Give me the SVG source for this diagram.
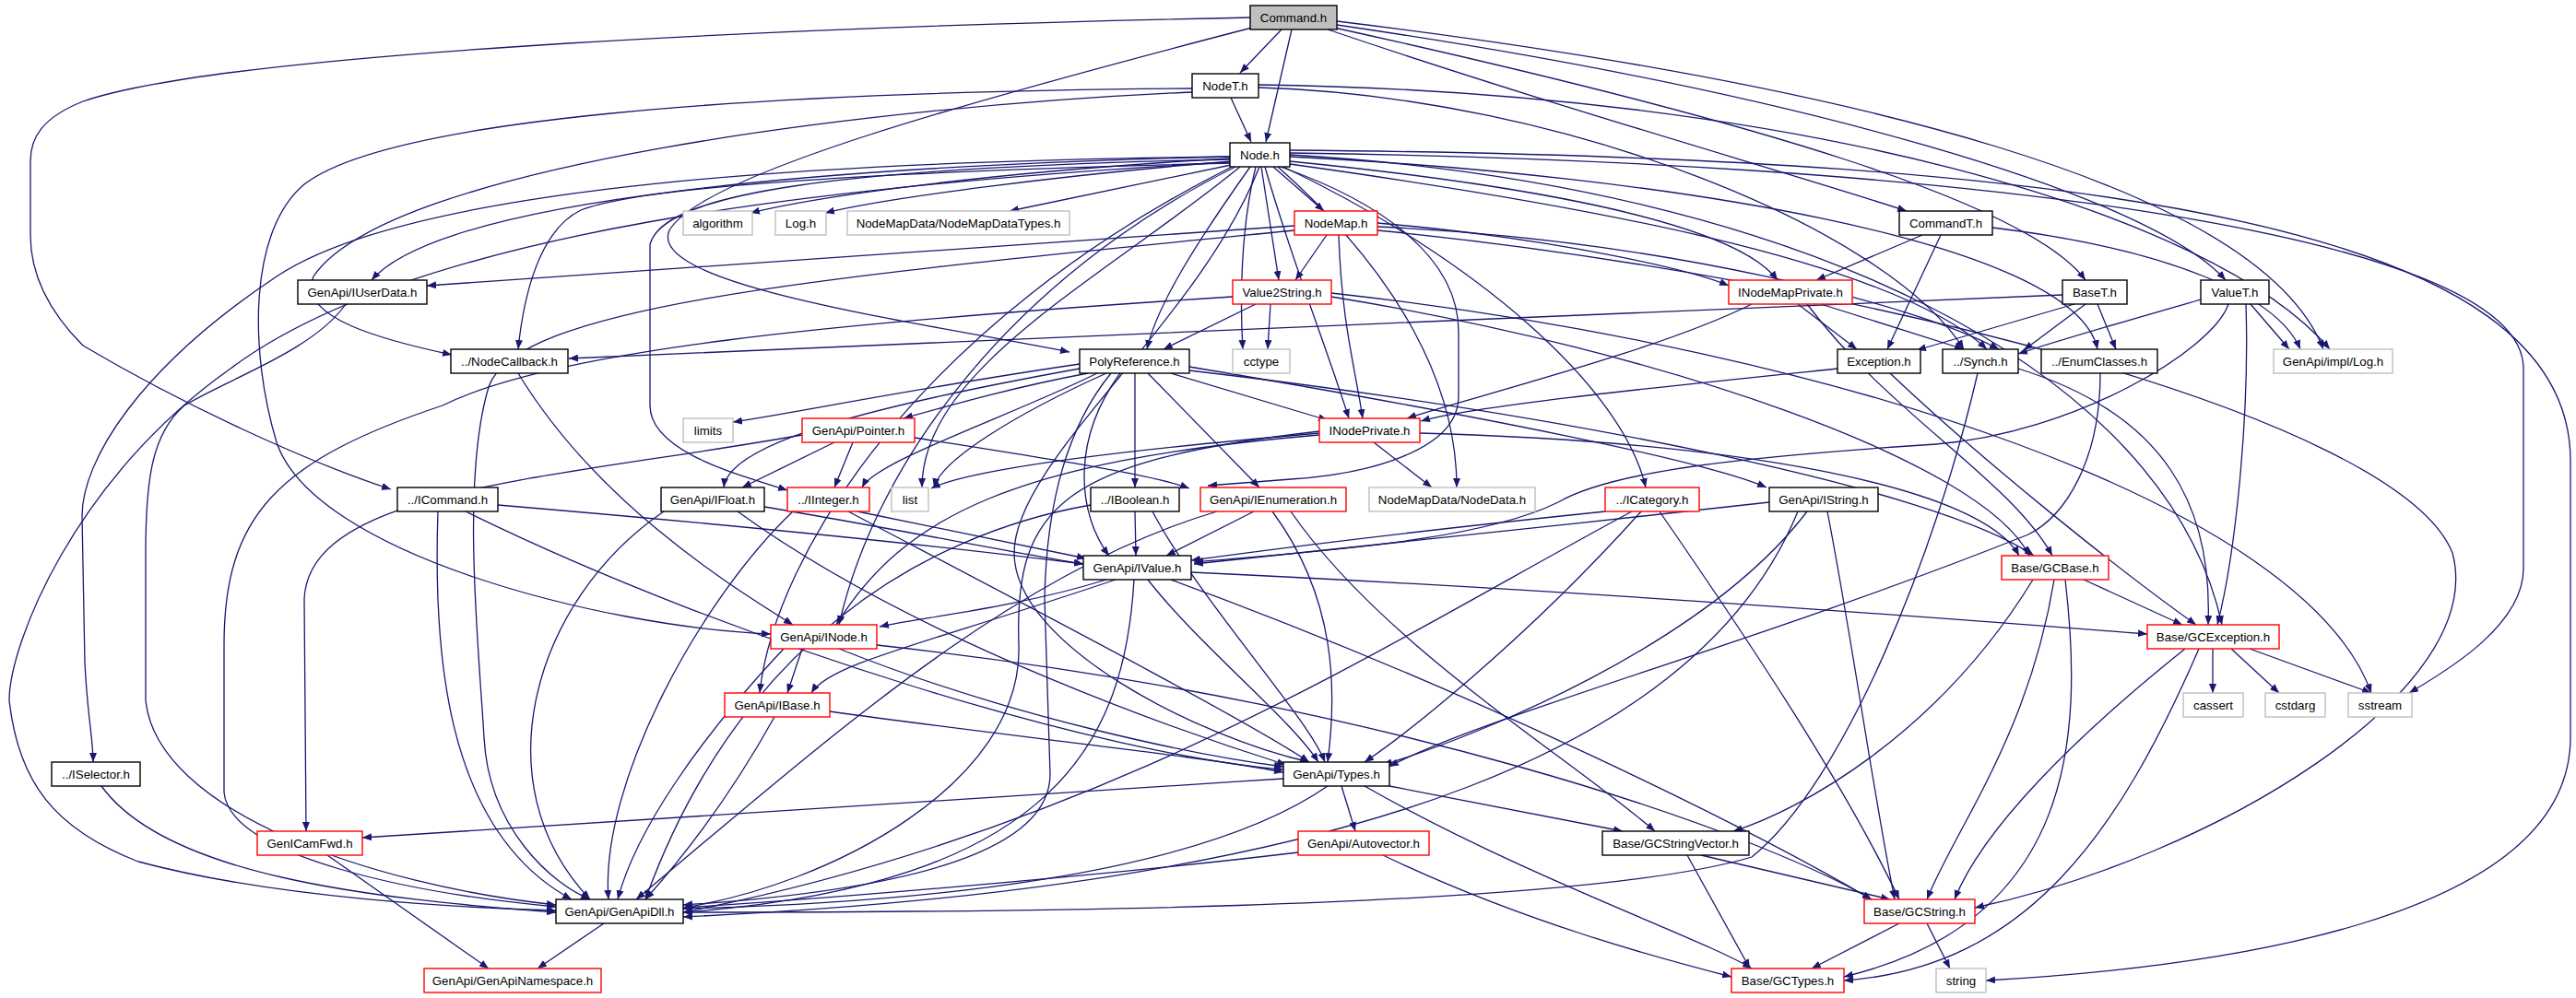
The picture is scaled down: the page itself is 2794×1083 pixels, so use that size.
<svg xmlns="http://www.w3.org/2000/svg" width="2794" height="1083" viewBox="0 0 2794 1083">
<style>
.e{fill:none;stroke:#191970;stroke-width:1.3;marker-end:url(#ah)}
.n rect{fill:#ffffff;stroke:#000000;stroke-width:1.4}
.r rect{stroke:#ff0000}
.g rect{stroke:#bfbfbf}
.n text{font-family:"Liberation Sans",Arial,Helvetica,sans-serif;font-size:13.3px;text-anchor:middle;fill:#000000}
</style>
<defs>
<marker id="ah" markerUnits="userSpaceOnUse" markerWidth="11" markerHeight="8" refX="10" refY="4" orient="auto">
<path d="M0,0 L10,4 L0,8 z" fill="#191970"/>
</marker>
</defs>
<rect x="0" y="0" width="2794" height="1083" fill="#ffffff"/>
<g id="edges">
<path class="e" d="M1390,32 L1345,79"/>
<path class="e" d="M1401,32 L1373,154"/>
<path class="e" d="M1356,19 C900,28 250,55 90,110 C45,128 33,150 33,175 L33,255 C33,300 55,340 90,375 C200,440 330,500 424,531"/>
<path class="e" d="M1358,30 C1050,110 760,190 726,250 C700,310 1000,350 1160,382"/>
<path class="e" d="M1440,32 C1700,120 1950,190 2068,229"/>
<path class="e" d="M1447,30 C1900,130 2200,220 2262,304"/>
<path class="e" d="M1450,27 C1950,100 2330,210 2414,304"/>
<path class="e" d="M1450,23 C2000,90 2450,200 2520,379"/>
<path class="e" d="M1335,106 L1357,154"/>
<path class="e" d="M1293,100 C950,115 420,180 340,300 C320,345 420,370 490,385"/>
<path class="e" d="M1293,96 C800,100 420,130 330,200 C270,250 270,380 300,480 C340,600 650,680 836,688"/>
<path class="e" d="M1365,95 C1700,105 2050,250 2130,379"/>
<path class="e" d="M1365,92 C1950,100 2400,230 2527,379"/>
<path class="e" d="M1334,172 C1100,185 900,210 814,231"/>
<path class="e" d="M1336,175 C1150,190 960,215 895,231"/>
<path class="e" d="M1340,178 L1095,229"/>
<path class="e" d="M1381,181 L1436,229"/>
<path class="e" d="M1368,181 L1387,304"/>
<path class="e" d="M1399,175 C1650,200 1880,240 1928,304"/>
<path class="e" d="M1334,177 C1000,185 700,200 630,228 C585,250 568,320 562,379"/>
<path class="e" d="M1334,170 C900,180 480,215 403,304"/>
<path class="e" d="M1334,173 C900,182 720,210 705,265 L705,440 C705,490 800,515 854,532"/>
<path class="e" d="M1356,181 C1300,260 1255,330 1244,379"/>
<path class="e" d="M1362,181 C1345,250 1345,330 1348,379"/>
<path class="e" d="M1399,178 C1700,220 2050,280 2155,379"/>
<path class="e" d="M1399,170 C1800,190 2250,260 2275,379"/>
<path class="e" d="M1372,181 C1400,280 1440,380 1463,454"/>
<path class="e" d="M1386,181 C1520,300 1580,420 1580,529"/>
<path class="e" d="M1392,181 C1600,280 1760,420 1785,529"/>
<path class="e" d="M1389,181 C1500,220 1582,280 1582,360 L1582,430 C1582,490 1480,515 1400,520 L1310,527"/>
<path class="e" d="M1345,181 C1200,300 1000,400 1000,529"/>
<path class="e" d="M1399,168 C1950,200 2350,400 2410,678"/>
<path class="e" d="M1399,166 C2100,175 2737,250 2737,400 L2737,617 C2737,680 2650,730 2613,752"/>
<path class="e" d="M1399,163 C2300,170 2788,250 2788,500 L2788,800 C2788,1000 2400,1050 2154,1064"/>
<path class="e" d="M1334,170 C900,175 450,200 300,300 C150,400 89,500 89,560 L92,720 C95,780 101,800 101,827"/>
<path class="e" d="M1334,176 C900,200 450,250 250,400 C80,520 10,700 10,760 C20,850 60,900 150,935 C300,975 500,985 603,988"/>
<path class="e" d="M1366,181 C1300,350 1100,500 1100,600 C1100,700 1300,800 1420,827"/>
<path class="e" d="M1340,181 C1100,300 950,500 910,678"/>
<path class="e" d="M1336,181 C1000,350 840,600 824,752"/>
<path class="e" d="M1362,330 L1262,379"/>
<path class="e" d="M1378,330 L1375,379"/>
<path class="e" d="M1337,322 C900,350 600,380 480,440 C300,500 243,560 243,700 L243,860 C250,930 450,970 603,984"/>
<path class="e" d="M1444,322 C1800,380 2150,500 2201,603"/>
<path class="e" d="M1444,318 C2000,380 2500,550 2572,752"/>
<path class="e" d="M1404,245 C1000,270 600,300 463,310"/>
<path class="e" d="M1439,255 L1405,304"/>
<path class="e" d="M1452,255 C1455,350 1470,400 1478,454"/>
<path class="e" d="M1494,242 C1700,260 1840,295 1875,310"/>
<path class="e" d="M1494,246 C1800,260 2080,330 2168,379"/>
<path class="e" d="M1404,250 C900,300 560,330 530,420 C500,520 519,700 525,800 C530,900 600,960 640,976"/>
<path class="e" d="M1494,250 C2000,300 2600,450 2660,600 C2700,750 2400,930 2142,985"/>
<path class="e" d="M2085,255 L1970,304"/>
<path class="e" d="M2105,255 L2047,379"/>
<path class="e" d="M2161,247 C2350,270 2470,320 2495,379"/>
<path class="e" d="M1900,330 C1800,380 1600,430 1526,454"/>
<path class="e" d="M1950,330 L2014,379"/>
<path class="e" d="M1975,330 L2130,379"/>
<path class="e" d="M1960,330 C2050,450 2180,520 2226,603"/>
<path class="e" d="M2237,320 C1800,340 1000,370 617,389"/>
<path class="e" d="M2250,330 L2079,380"/>
<path class="e" d="M2262,330 L2195,380"/>
<path class="e" d="M2275,330 L2295,379"/>
<path class="e" d="M2387,325 C2300,350 2230,370 2189,384"/>
<path class="e" d="M2441,330 L2483,379"/>
<path class="e" d="M2436,330 C2440,450 2425,600 2405,678"/>
<path class="e" d="M2417,330 C2400,380 2250,470 2100,482 C1900,495 1750,510 1690,545 C1600,590 1400,600 1295,610"/>
<path class="e" d="M1993,400 C1800,420 1600,440 1541,457"/>
<path class="e" d="M2050,405 C2150,500 2300,620 2382,678"/>
<path class="e" d="M2145,405 C2100,600 2000,850 1900,930 C1700,990 1000,990 741,990"/>
<path class="e" d="M2189,400 C2350,450 2400,550 2395,678"/>
<path class="e" d="M2278,405 C2278,500 2240,560 2200,580 C1900,700 1600,780 1507,832"/>
<path class="e" d="M1171,395 C1000,420 850,450 795,458"/>
<path class="e" d="M1180,405 C1100,420 1030,440 980,454"/>
<path class="e" d="M1171,400 C950,440 790,480 785,529"/>
<path class="e" d="M1190,405 C1100,450 950,500 935,529"/>
<path class="e" d="M1200,405 C1100,450 1020,500 1013,529"/>
<path class="e" d="M1231,405 L1231,529"/>
<path class="e" d="M1215,405 C1160,480 1170,560 1203,603"/>
<path class="e" d="M1245,405 L1366,529"/>
<path class="e" d="M1270,405 L1440,456"/>
<path class="e" d="M1290,398 C1600,450 1850,500 1916,529"/>
<path class="e" d="M1290,402 C1700,450 2100,530 2206,603"/>
<path class="e" d="M1205,405 C1160,460 1135,540 1133,650 L1139,840 C1139,920 1000,965 741,982"/>
<path class="e" d="M905,480 L805,529"/>
<path class="e" d="M925,480 L905,529"/>
<path class="e" d="M992,475 C1150,500 1250,515 1290,530"/>
<path class="e" d="M870,472 C600,520 335,530 330,650 L332,902"/>
<path class="e" d="M1431,470 C1200,490 1050,510 1010,530"/>
<path class="e" d="M1490,480 L1553,529"/>
<path class="e" d="M1431,472 C1100,500 980,560 907,678"/>
<path class="e" d="M1431,468 C1150,500 1100,550 1105,700 C1110,850 900,960 741,985"/>
<path class="e" d="M1540,470 C1900,480 2150,530 2190,603"/>
<path class="e" d="M475,555 C470,700 480,900 620,976"/>
<path class="e" d="M540,548 C800,570 1000,590 1175,612"/>
<path class="e" d="M505,555 C800,700 1200,820 1392,835"/>
<path class="e" d="M720,555 C580,650 520,850 640,976"/>
<path class="e" d="M829,550 C950,570 1100,600 1175,612"/>
<path class="e" d="M800,555 C1000,700 1300,800 1395,830"/>
<path class="e" d="M860,555 C760,650 650,850 660,976"/>
<path class="e" d="M930,555 C1050,580 1150,600 1178,606"/>
<path class="e" d="M920,555 C1100,650 1350,780 1420,827"/>
<path class="e" d="M1231,555 L1232,603"/>
<path class="e" d="M1183,548 C1000,580 800,700 700,976"/>
<path class="e" d="M1250,555 C1300,650 1420,780 1437,827"/>
<path class="e" d="M1360,555 L1265,603"/>
<path class="e" d="M1320,555 C1100,620 900,800 690,976"/>
<path class="e" d="M1380,555 C1450,650 1450,750 1440,827"/>
<path class="e" d="M1400,555 C1500,700 1700,820 1795,902"/>
<path class="e" d="M1741,555 C1500,580 1350,600 1292,608"/>
<path class="e" d="M1770,555 C1500,700 1200,900 741,990"/>
<path class="e" d="M1780,555 C1650,700 1520,800 1480,827"/>
<path class="e" d="M1800,555 C1900,700 2000,850 2060,976"/>
<path class="e" d="M1919,545 C1700,570 1400,600 1295,612"/>
<path class="e" d="M1960,555 C1850,700 1600,800 1500,830"/>
<path class="e" d="M1950,555 C1850,800 1500,960 741,995"/>
<path class="e" d="M1982,555 C2010,700 2030,850 2055,976"/>
<path class="e" d="M1200,629 C1100,660 1000,670 954,680"/>
<path class="e" d="M1210,629 C1000,700 900,720 880,752"/>
<path class="e" d="M1230,629 C1220,800 1150,960 741,990"/>
<path class="e" d="M1245,629 C1300,700 1400,780 1430,827"/>
<path class="e" d="M1270,629 C1600,750 1900,900 2030,976"/>
<path class="e" d="M1292,621 C1700,640 2100,670 2329,688"/>
<path class="e" d="M2260,629 L2367,678"/>
<path class="e" d="M2228,629 C2200,800 2120,900 2090,976"/>
<path class="e" d="M2205,629 C2100,800 1950,880 1880,902"/>
<path class="e" d="M2240,629 C2260,800 2250,1000 2000,1060"/>
<path class="e" d="M870,704 L854,752"/>
<path class="e" d="M850,704 C760,800 690,900 670,976"/>
<path class="e" d="M910,704 C1100,780 1300,820 1392,832"/>
<path class="e" d="M951,700 C1500,760 1900,900 2030,976"/>
<path class="e" d="M2400,704 L2400,752"/>
<path class="e" d="M2420,704 L2472,752"/>
<path class="e" d="M2440,704 L2572,752"/>
<path class="e" d="M2370,704 C2250,800 2150,900 2120,976"/>
<path class="e" d="M2385,704 C2300,900 2200,1050 2000,1064"/>
<path class="e" d="M840,778 C800,850 750,920 700,976"/>
<path class="e" d="M900,772 C1100,800 1300,820 1392,838"/>
<path class="e" d="M110,853 C180,950 400,975 603,990"/>
<path class="e" d="M1392,845 C1000,870 600,895 393,909"/>
<path class="e" d="M1455,853 L1470,902"/>
<path class="e" d="M1507,853 L1760,902"/>
<path class="e" d="M1440,853 C1300,950 1000,980 741,986"/>
<path class="e" d="M1480,853 C1650,950 1850,1020 1900,1051"/>
<path class="e" d="M355,928 L530,1051"/>
<path class="e" d="M1408,925 C1200,950 900,975 741,985"/>
<path class="e" d="M1500,928 C1650,1000 1800,1040 1878,1060"/>
<path class="e" d="M1845,928 L2050,976"/>
<path class="e" d="M1830,928 L1898,1051"/>
<path class="e" d="M655,1002 L583,1051"/>
<path class="e" d="M2060,1002 L1965,1051"/>
<path class="e" d="M2090,1002 L2115,1051"/>
<path class="e" d="M375,330 C340,380 250,410 200,440 C165,470 158,520 158,600 L158,760 C170,880 400,960 603,982"/>
<path class="e" d="M562,405 C650,550 800,640 860,678"/>
</g>
<g id="n-Command" class="n"><rect x="1356" y="6" width="94" height="26" style="fill:#bfbfbf"/><text x="1403" y="24">Command.h</text></g>
<g id="n-NodeT" class="n"><rect x="1293" y="80" width="72" height="26"/><text x="1329" y="98">NodeT.h</text></g>
<g id="n-Node" class="n"><rect x="1334" y="155" width="65" height="26"/><text x="1366.5" y="173">Node.h</text></g>
<g id="n-algorithm" class="n g"><rect x="741" y="229" width="75" height="26"/><text x="778.5" y="247">algorithm</text></g>
<g id="n-Logh" class="n g"><rect x="841" y="229" width="55" height="26"/><text x="868.5" y="247">Log.h</text></g>
<g id="n-NMDT" class="n g"><rect x="919" y="229" width="241" height="26"/><text x="1039.5" y="247">NodeMapData/NodeMapDataTypes.h</text></g>
<g id="n-NodeMap" class="n r"><rect x="1404" y="229" width="90" height="26"/><text x="1449" y="247">NodeMap.h</text></g>
<g id="n-CommandT" class="n"><rect x="2060" y="229" width="101" height="26"/><text x="2110.5" y="247">CommandT.h</text></g>
<g id="n-IUserData" class="n"><rect x="323" y="304" width="140" height="26"/><text x="393" y="322">GenApi/IUserData.h</text></g>
<g id="n-Value2String" class="n r"><rect x="1337" y="304" width="107" height="26"/><text x="1390.5" y="322">Value2String.h</text></g>
<g id="n-INodeMapPrivate" class="n r"><rect x="1875" y="304" width="134" height="26"/><text x="1942" y="322">INodeMapPrivate.h</text></g>
<g id="n-BaseT" class="n"><rect x="2237" y="304" width="70" height="26"/><text x="2272" y="322">BaseT.h</text></g>
<g id="n-ValueT" class="n"><rect x="2387" y="304" width="74" height="26"/><text x="2424" y="322">ValueT.h</text></g>
<g id="n-NodeCallback" class="n"><rect x="489" y="379" width="127" height="26"/><text x="552.5" y="397">../NodeCallback.h</text></g>
<g id="n-PolyReference" class="n"><rect x="1171" y="379" width="119" height="26"/><text x="1230.5" y="397">PolyReference.h</text></g>
<g id="n-cctype" class="n g"><rect x="1337" y="379" width="62" height="26"/><text x="1368" y="397">cctype</text></g>
<g id="n-Exception" class="n"><rect x="1993" y="379" width="90" height="26"/><text x="2038" y="397">Exception.h</text></g>
<g id="n-Synch" class="n"><rect x="2107" y="379" width="82" height="26"/><text x="2148" y="397">../Synch.h</text></g>
<g id="n-EnumClasses" class="n"><rect x="2214" y="379" width="126" height="26"/><text x="2277" y="397">../EnumClasses.h</text></g>
<g id="n-ImplLog" class="n g"><rect x="2466" y="379" width="129" height="26"/><text x="2530.5" y="397">GenApi/impl/Log.h</text></g>
<g id="n-limits" class="n g"><rect x="741" y="454" width="54" height="26"/><text x="768" y="472">limits</text></g>
<g id="n-Pointer" class="n r"><rect x="870" y="454" width="122" height="26"/><text x="931" y="472">GenApi/Pointer.h</text></g>
<g id="n-INodePrivate" class="n r"><rect x="1431" y="454" width="109" height="26"/><text x="1485.5" y="472">INodePrivate.h</text></g>
<g id="n-ICommand" class="n"><rect x="431" y="529" width="109" height="26"/><text x="485.5" y="547">../ICommand.h</text></g>
<g id="n-IFloat" class="n"><rect x="717" y="529" width="112" height="26"/><text x="773" y="547">GenApi/IFloat.h</text></g>
<g id="n-IInteger" class="n r"><rect x="854" y="529" width="89" height="26"/><text x="898.5" y="547">../IInteger.h</text></g>
<g id="n-list" class="n g"><rect x="967" y="529" width="40" height="26"/><text x="987" y="547">list</text></g>
<g id="n-IBoolean" class="n"><rect x="1183" y="529" width="96" height="26"/><text x="1231" y="547">../IBoolean.h</text></g>
<g id="n-IEnumeration" class="n r"><rect x="1302" y="529" width="158" height="26"/><text x="1381" y="547">GenApi/IEnumeration.h</text></g>
<g id="n-NodeData" class="n g"><rect x="1485" y="529" width="180" height="26"/><text x="1575" y="547">NodeMapData/NodeData.h</text></g>
<g id="n-ICategory" class="n r"><rect x="1741" y="529" width="102" height="26"/><text x="1792" y="547">../ICategory.h</text></g>
<g id="n-IString" class="n"><rect x="1919" y="529" width="118" height="26"/><text x="1978" y="547">GenApi/IString.h</text></g>
<g id="n-IValue" class="n"><rect x="1175" y="603" width="117" height="26"/><text x="1233.5" y="621">GenApi/IValue.h</text></g>
<g id="n-GCBase" class="n r"><rect x="2171" y="603" width="116" height="26"/><text x="2229" y="621">Base/GCBase.h</text></g>
<g id="n-INode" class="n r"><rect x="836" y="678" width="115" height="26"/><text x="893.5" y="696">GenApi/INode.h</text></g>
<g id="n-GCException" class="n r"><rect x="2329" y="678" width="143" height="26"/><text x="2400.5" y="696">Base/GCException.h</text></g>
<g id="n-IBase" class="n r"><rect x="786" y="752" width="114" height="26"/><text x="843" y="770">GenApi/IBase.h</text></g>
<g id="n-cassert" class="n g"><rect x="2368" y="752" width="65" height="26"/><text x="2400.5" y="770">cassert</text></g>
<g id="n-cstdarg" class="n g"><rect x="2457" y="752" width="65" height="26"/><text x="2489.5" y="770">cstdarg</text></g>
<g id="n-sstream" class="n g"><rect x="2547" y="752" width="69" height="26"/><text x="2581.5" y="770">sstream</text></g>
<g id="n-ISelector" class="n"><rect x="56" y="827" width="96" height="26"/><text x="104" y="845">../ISelector.h</text></g>
<g id="n-Types" class="n"><rect x="1392" y="827" width="115" height="26"/><text x="1449.5" y="845">GenApi/Types.h</text></g>
<g id="n-GenICamFwd" class="n r"><rect x="279" y="902" width="114" height="26"/><text x="336" y="920">GenICamFwd.h</text></g>
<g id="n-Autovector" class="n r"><rect x="1408" y="902" width="142" height="26"/><text x="1479" y="920">GenApi/Autovector.h</text></g>
<g id="n-GCStringVector" class="n"><rect x="1738" y="902" width="159" height="26"/><text x="1817.5" y="920">Base/GCStringVector.h</text></g>
<g id="n-GenApiDll" class="n"><rect x="603" y="976" width="138" height="26"/><text x="672" y="994">GenApi/GenApiDll.h</text></g>
<g id="n-GCString" class="n r"><rect x="2022" y="976" width="120" height="26"/><text x="2082" y="994">Base/GCString.h</text></g>
<g id="n-GenApiNamespace" class="n r"><rect x="460" y="1051" width="192" height="26"/><text x="556" y="1069">GenApi/GenApiNamespace.h</text></g>
<g id="n-GCTypes" class="n r"><rect x="1878" y="1051" width="122" height="26"/><text x="1939" y="1069">Base/GCTypes.h</text></g>
<g id="n-string" class="n g"><rect x="2100" y="1051" width="54" height="26"/><text x="2127" y="1069">string</text></g>
</svg>
